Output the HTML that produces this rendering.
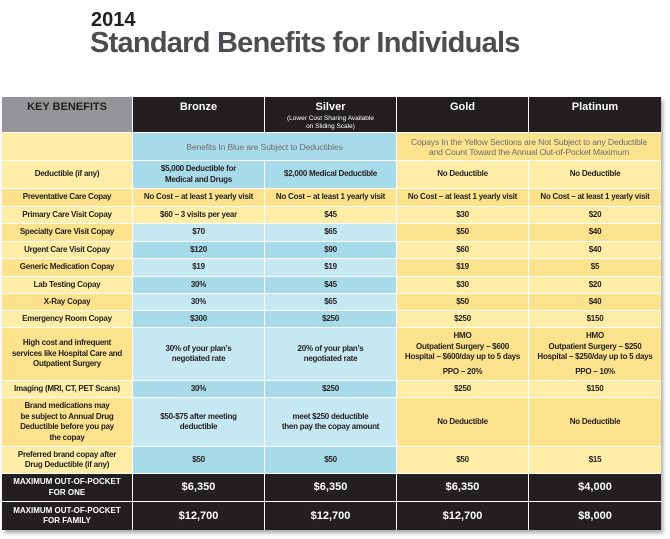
<!DOCTYPE html>
<html>
<head>
<meta charset="utf-8">
<style>
*{margin:0;padding:0;box-sizing:border-box}
html,body{width:670px;height:539px;background:#fff;overflow:hidden;position:relative;font-family:"Liberation Sans",Arial,sans-serif}
.t{position:absolute;white-space:nowrap;line-height:1;font-weight:bold}
#tbl{position:absolute;left:2px;top:97px;width:659px;height:433px;background:#fff;box-shadow:2px 3px 4px rgba(0,0,0,0.35)}
.c{position:absolute;display:flex;align-items:center;justify-content:center;text-align:center;font-size:8px;font-weight:bold;letter-spacing:-0.25px;line-height:10.5px;color:#231f20}
.h{align-items:flex-start;color:#fff;font-size:11px;letter-spacing:0;padding-top:5px;line-height:11px}
.yd{background:#fbe28c}.yl{background:#fdeda6}.bd{background:#a8dbe9}.bl{background:#c6e8f2}.bk{background:#231f20;color:#fff}.gr{background:#939598;color:#231f20}
.note{font-weight:normal;color:#6d6e71;letter-spacing:-0.15px;line-height:10px;font-size:8.6px}
.mk{font-size:8px;letter-spacing:0;line-height:10.5px}
.mv{font-size:11px;letter-spacing:0}
</style>
</head>
<body>
<div class="t" style="left:91px;top:10px;font-size:20px;color:#231f20">2014</div>
<div class="t" style="left:90px;top:28.5px;font-size:29px;color:#4d4d4f;letter-spacing:-0.75px">Standard Benefits for Individuals</div>

<div id="tbl">
<!-- header -->
<div class="c h gr" style="left:0;top:0;width:130px;height:35px">KEY BENEFITS</div>
<div class="c h bk" style="left:131px;top:0;width:131px;height:35px">Bronze</div>
<div class="c h bk" style="left:263px;top:0;width:131px;height:35px;flex-direction:column;align-items:center;justify-content:flex-start"><div>Silver</div><div style="font-size:6.5px;font-weight:normal;line-height:8px;margin-top:2px">(Lower Cost Sharing Available<br>on Sliding Scale)</div></div>
<div class="c h bk" style="left:395px;top:0;width:131px;height:35px">Gold</div>
<div class="c h bk" style="left:527px;top:0;width:132px;height:35px">Platinum</div>

<!-- note row 133-161 -->
<div class="c yl" style="left:0;top:36px;width:130px;height:27px"></div>
<div class="c bd note" style="left:131px;top:36px;width:263px;height:27px">Benefits In Blue are Subject to Deductibles</div>
<div class="c yd note" style="left:395px;top:36px;width:264px;height:27px">Copays In the Yellow Sections are Not Subject to any Deductible<br>and Count Toward the Annual Out-of-Pocket Maximum</div>

<!-- Deductible 161-189 -->
<div class="c yl" style="left:0;top:64px;width:130px;height:27px">Deductible (if any)</div>
<div class="c bd" style="left:131px;top:64px;width:131px;height:27px">$5,000 Deductible for<br>Medical and Drugs</div>
<div class="c bd" style="left:263px;top:64px;width:131px;height:27px">$2,000 Medical Deductible</div>
<div class="c yl" style="left:395px;top:64px;width:131px;height:27px">No Deductible</div>
<div class="c yl" style="left:527px;top:64px;width:132px;height:27px">No Deductible</div>

<!-- Preventative 189-207 -->
<div class="c yd" style="left:0;top:92px;width:130px;height:17px">Preventative Care Copay</div>
<div class="c yd" style="left:131px;top:92px;width:131px;height:17px">No Cost – at least 1 yearly visit</div>
<div class="c yd" style="left:263px;top:92px;width:131px;height:17px">No Cost – at least 1 yearly visit</div>
<div class="c yd" style="left:395px;top:92px;width:131px;height:17px">No Cost – at least 1 yearly visit</div>
<div class="c yd" style="left:527px;top:92px;width:132px;height:17px">No Cost – at least 1 yearly visit</div>

<!-- Primary 207-224 -->
<div class="c yl" style="left:0;top:110px;width:130px;height:16px">Primary Care Visit Copay</div>
<div class="c yl" style="left:131px;top:110px;width:131px;height:16px">$60 – 3 visits per year</div>
<div class="c yl" style="left:263px;top:110px;width:131px;height:16px">$45</div>
<div class="c yl" style="left:395px;top:110px;width:131px;height:16px">$30</div>
<div class="c yl" style="left:527px;top:110px;width:132px;height:16px">$20</div>

<!-- Specialty 224-242 -->
<div class="c yd" style="left:0;top:127px;width:130px;height:17px">Specialty Care Visit Copay</div>
<div class="c bl" style="left:131px;top:127px;width:131px;height:17px">$70</div>
<div class="c bl" style="left:263px;top:127px;width:131px;height:17px">$65</div>
<div class="c yd" style="left:395px;top:127px;width:131px;height:17px">$50</div>
<div class="c yd" style="left:527px;top:127px;width:132px;height:17px">$40</div>

<!-- Urgent 242-259 -->
<div class="c yl" style="left:0;top:145px;width:130px;height:16px">Urgent Care Visit Copay</div>
<div class="c bd" style="left:131px;top:145px;width:131px;height:16px">$120</div>
<div class="c bd" style="left:263px;top:145px;width:131px;height:16px">$90</div>
<div class="c yl" style="left:395px;top:145px;width:131px;height:16px">$60</div>
<div class="c yl" style="left:527px;top:145px;width:132px;height:16px">$40</div>

<!-- Generic 259-277 -->
<div class="c yd" style="left:0;top:162px;width:130px;height:17px">Generic Medication Copay</div>
<div class="c bl" style="left:131px;top:162px;width:131px;height:17px">$19</div>
<div class="c bl" style="left:263px;top:162px;width:131px;height:17px">$19</div>
<div class="c yd" style="left:395px;top:162px;width:131px;height:17px">$19</div>
<div class="c yd" style="left:527px;top:162px;width:132px;height:17px">$5</div>

<!-- Lab 277-294 -->
<div class="c yl" style="left:0;top:180px;width:130px;height:16px">Lab Testing Copay</div>
<div class="c bd" style="left:131px;top:180px;width:131px;height:16px">30%</div>
<div class="c bd" style="left:263px;top:180px;width:131px;height:16px">$45</div>
<div class="c yl" style="left:395px;top:180px;width:131px;height:16px">$30</div>
<div class="c yl" style="left:527px;top:180px;width:132px;height:16px">$20</div>

<!-- X-Ray 294-311 -->
<div class="c yd" style="left:0;top:197px;width:130px;height:16px">X-Ray Copay</div>
<div class="c bl" style="left:131px;top:197px;width:131px;height:16px">30%</div>
<div class="c bl" style="left:263px;top:197px;width:131px;height:16px">$65</div>
<div class="c yd" style="left:395px;top:197px;width:131px;height:16px">$50</div>
<div class="c yd" style="left:527px;top:197px;width:132px;height:16px">$40</div>

<!-- ER 311-328 -->
<div class="c yl" style="left:0;top:214px;width:130px;height:16px">Emergency Room Copay</div>
<div class="c bd" style="left:131px;top:214px;width:131px;height:16px">$300</div>
<div class="c bd" style="left:263px;top:214px;width:131px;height:16px">$250</div>
<div class="c yl" style="left:395px;top:214px;width:131px;height:16px">$250</div>
<div class="c yl" style="left:527px;top:214px;width:132px;height:16px">$150</div>

<!-- High cost 328-381 -->
<div class="c yd" style="left:0;top:231px;width:130px;height:52px">High cost and infrequent<br>services like Hospital Care and<br>Outpatient Surgery</div>
<div class="c bl" style="left:131px;top:231px;width:131px;height:52px">30% of your plan’s<br>negotiated rate</div>
<div class="c bl" style="left:263px;top:231px;width:131px;height:52px">20% of your plan’s<br>negotiated rate</div>
<div class="c yd" style="left:395px;top:231px;width:131px;height:52px;flex-direction:column"><div>HMO<br>Outpatient Surgery – $600<br>Hospital – $600/day up to 5 days</div><div style="margin-top:4px">PPO – 20%</div></div>
<div class="c yd" style="left:527px;top:231px;width:132px;height:52px;flex-direction:column"><div>HMO<br>Outpatient Surgery – $250<br>Hospital – $250/day up to 5 days</div><div style="margin-top:4px">PPO – 10%</div></div>

<!-- Imaging 381-398 -->
<div class="c yl" style="left:0;top:284px;width:130px;height:16px">Imaging (MRI, CT, PET Scans)</div>
<div class="c bd" style="left:131px;top:284px;width:131px;height:16px">30%</div>
<div class="c bd" style="left:263px;top:284px;width:131px;height:16px">$250</div>
<div class="c yl" style="left:395px;top:284px;width:131px;height:16px">$250</div>
<div class="c yl" style="left:527px;top:284px;width:132px;height:16px">$150</div>

<!-- Brand 398-447 -->
<div class="c yd" style="left:0;top:301px;width:130px;height:48px">Brand medications may<br>be subject to Annual Drug<br>Deductible before you pay<br>the copay</div>
<div class="c bl" style="left:131px;top:301px;width:131px;height:48px">$50-$75 after meeting<br>deductible</div>
<div class="c bl" style="left:263px;top:301px;width:131px;height:48px">meet $250 deductible<br>then pay the copay amount</div>
<div class="c yd" style="left:395px;top:301px;width:131px;height:48px">No Deductible</div>
<div class="c yd" style="left:527px;top:301px;width:132px;height:48px">No Deductible</div>

<!-- Preferred 447-474 -->
<div class="c yl" style="left:0;top:350px;width:130px;height:26px">Preferred brand copay after<br>Drug Deductible (if any)</div>
<div class="c bd" style="left:131px;top:350px;width:131px;height:26px">$50</div>
<div class="c bd" style="left:263px;top:350px;width:131px;height:26px">$50</div>
<div class="c yl" style="left:395px;top:350px;width:131px;height:26px">$50</div>
<div class="c yl" style="left:527px;top:350px;width:132px;height:26px">$15</div>

<!-- Max one 474-502 -->
<div class="c bk mk" style="left:0;top:377px;width:130px;height:27px">MAXIMUM OUT-OF-POCKET<br>FOR ONE</div>
<div class="c bk mv" style="left:131px;top:377px;width:131px;height:27px">$6,350</div>
<div class="c bk mv" style="left:263px;top:377px;width:131px;height:27px">$6,350</div>
<div class="c bk mv" style="left:395px;top:377px;width:131px;height:27px">$6,350</div>
<div class="c bk mv" style="left:527px;top:377px;width:132px;height:27px">$4,000</div>

<!-- Max family 502-530 -->
<div class="c bk mk" style="left:0;top:405px;width:130px;height:28px">MAXIMUM OUT-OF-POCKET<br>FOR FAMILY</div>
<div class="c bk mv" style="left:131px;top:405px;width:131px;height:28px">$12,700</div>
<div class="c bk mv" style="left:263px;top:405px;width:131px;height:28px">$12,700</div>
<div class="c bk mv" style="left:395px;top:405px;width:131px;height:28px">$12,700</div>
<div class="c bk mv" style="left:527px;top:405px;width:132px;height:28px">$8,000</div>
</div>
</body>
</html>
